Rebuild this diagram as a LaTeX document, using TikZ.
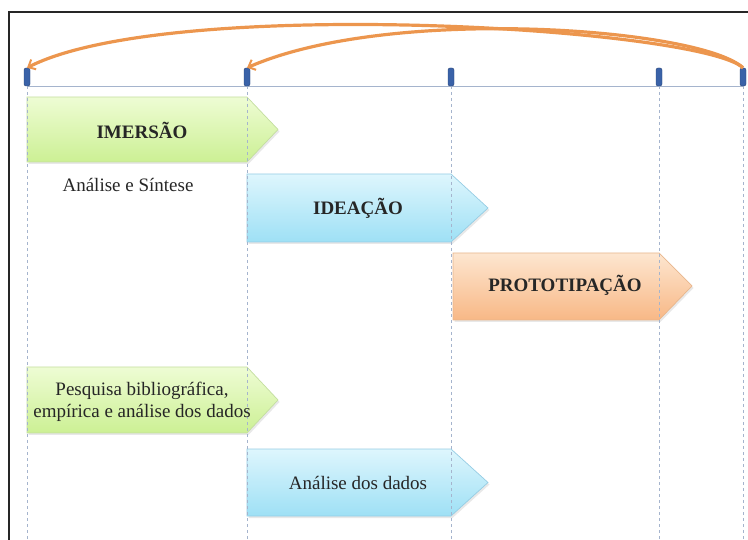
\documentclass[tikz,border=0pt]{standalone}
\usepackage{fontspec}
\setmainfont{Liberation Serif}
\newfontfamily\phasefont{Liberation Serif}
\usetikzlibrary{arrows.meta,shadows}

\definecolor{tickblue}{RGB}{58,98,168}
\definecolor{gridblue}{RGB}{165,180,205}
\definecolor{arcorange}{RGB}{236,150,78}
\definecolor{textdark}{RGB}{38,38,38}

\tikzset{
    phase/.style={line width=0.7pt, drop shadow={opacity=0.18, shadow xshift=1.5pt, shadow yshift=-2pt}},
    greenphase/.style={phase, top color={rgb,255:red,238;green,252;blue,212}, bottom color={rgb,255:red,204;green,240;blue,148}, draw={rgb,255:red,196;green,222;blue,160}},
    bluephase/.style={phase, top color={rgb,255:red,222;green,246;blue,253}, bottom color={rgb,255:red,158;green,224;blue,245}, draw={rgb,255:red,150;green,205;blue,228}},
    orangephase/.style={phase, top color={rgb,255:red,253;green,230;blue,208}, bottom color={rgb,255:red,248;green,184;blue,134}, draw={rgb,255:red,232;green,182;blue,140}},
    tick/.style={draw=tickblue!70!black, fill=tickblue, rounded corners=2pt, minimum width=6pt, minimum height=18pt, inner sep=0pt},
    loop arc/.style={draw=arcorange, line width=3.2pt, -{Straight Barb[length=6pt, width=11pt, line width=2pt]}},
    label/.style={font=\phasefont\fontsize{19}{22}\selectfont, text=textdark, align=center},
    title/.style={font=\phasefont\fontsize{19}{22}\selectfont\bfseries, text=textdark, align=center},
}

\begin{document}
\begin{tikzpicture}[x=1pt, y=-1pt]
    \useasboundingbox (0,0) rectangle (748,540);

    % outer frame
    \draw[line width=2pt, black!85] (9,540) -- (9,12) -- (748,12);

    % chevrons for the phases
    \draw[greenphase]  (27,97)   -- (247,97)  -- (278,129.5) -- (247,162) -- (27,162)  -- cycle;
    \draw[bluephase]   (247,174) -- (451,174) -- (488,208)   -- (451,242) -- (247,242) -- cycle;
    \draw[orangephase] (453,253) -- (659,253) -- (692,286)   -- (659,320) -- (453,320) -- cycle;
    \draw[greenphase]  (27,367)  -- (247,367) -- (278,400)   -- (247,433) -- (27,433)  -- cycle;
    \draw[bluephase]   (247,449) -- (451,449) -- (488,482.5) -- (451,516) -- (247,516) -- cycle;

    % timeline with its markers
    \draw[gridblue, line width=0.8pt] (27,86) -- (743,86);
    \foreach \x/\n in {27/t1, 247/t2, 451/t3, 659/t4, 743/t5} {
        \draw[gridblue, dashed, line width=0.7pt] (\x,86) -- (\x,540);
        \node[tick] (\n) at (\x,77) {};
    }

    % iteration loops
    \draw[loop arc] (t5.north) .. controls (700,28) and (170,-5) .. (t1.north);
    \draw[loop arc] (t5.north) .. controls (700,28) and (390,5) .. (t2.north);

    % texts
    \node[title] (imersao) at (142,130) {IMERSÃO};
    \node[label] (sintese) at (128,185) {Análise e Síntese};
    \node[title] (ideacao) at (358,208) {IDEAÇÃO};
    \node[title] (prototipacao) at (565,285) {PROTOTIPAÇÃO};
    \node[label] (pesquisa) at (142,402) {Pesquisa bibliográfica,\\empírica e análise dos dados};
    \node[label] (dados) at (358,483) {Análise dos dados};
\end{tikzpicture}
\end{document}
